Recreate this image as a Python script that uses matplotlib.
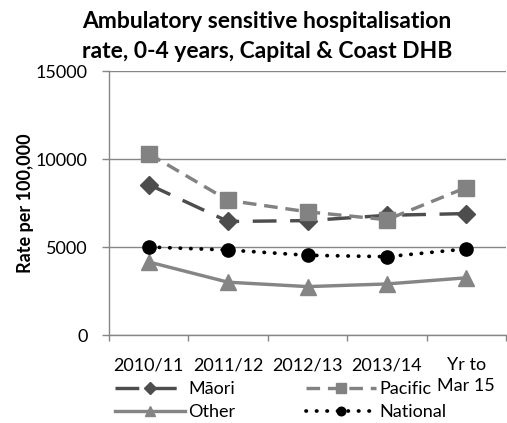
import matplotlib
matplotlib.use("Agg")
import matplotlib.pyplot as plt
import numpy as np

categories = ["2010/11", "2011/12", "2012/13", "2013/14", "Yr to\nMar 15"]
maori = [8550, 6450, 6500, 6800, 6900]
pacific = [10300, 7650, 7000, 6550, 8380]
other = [4150, 3000, 2750, 2900, 3250]
national = [5000, 4830, 4530, 4450, 4890]
yticks = [0, 5000, 10000, 15000]

FONT = ["Lato", "DejaVu Sans"]
plt.rcParams['font.family'] = FONT

fig = plt.figure(figsize=(5.07, 4.23), dpi=100)
ax = fig.add_axes([109/507, 1-335/423, 397/507, 264/423])

x = np.arange(len(categories))
lw = 3.4 * 72/100
FS = 13

ax.plot(x, maori, color="#4d4d4d", lw=lw, linestyle=(0, (7, 4)), marker="D",
        markersize=9, label="Māori", zorder=3)
ax.plot(x, pacific, color="#828282", lw=lw, linestyle=(0, (4, 2.3)), marker="s",
        markersize=11, label="Pacific", zorder=3)
ax.plot(x, other, color="#858585", lw=lw, linestyle="-", marker="^",
        markersize=11, label="Other", zorder=3)
ax.plot(x, national, color="black", lw=2.7, linestyle=(0, (0.1, 2.7)),
        dash_capstyle="round", marker="o", markersize=9.5, label="National", zorder=4)

ax.set_xlim(-0.5, len(categories) - 0.5)
ax.set_ylim(0, 15000)
ax.set_yticks(yticks)
ax.set_yticklabels([str(v) for v in yticks])
ax.set_xticks(x)
ax.set_xticklabels(categories, linespacing=1.4, va="top")
ax.set_xticks(np.arange(-0.5, len(categories)), minor=True)
ax.tick_params(axis="x", which="major", length=0, pad=16, labelsize=FS, labelcolor="black")
ax.tick_params(axis="x", which="minor", length=4, color="#868686", width=1)
ax.tick_params(axis="y", length=5, color="#868686", width=1, labelsize=FS, pad=10.5)

ax.grid(axis="y", color="#868686", lw=1)
ax.set_axisbelow(True)
for s in ["top", "right"]:
    ax.spines[s].set_visible(False)
for s in ["left", "bottom"]:
    ax.spines[s].set_color("#868686")
    ax.spines[s].set_linewidth(1)

ax.set_ylabel("Rate per 100,000", fontweight="bold", fontsize=13, labelpad=1)

fig.text(267/507, 1-22/423, "Ambulatory sensitive hospitalisation", ha="center", va="center",
         fontsize=16.5, fontweight="bold")
fig.text(267/507, 1-52/423, "rate, 0-4 years, Capital & Coast DHB", ha="center", va="center",
         fontsize=16.5, fontweight="bold")

h, l = ax.get_legend_handles_labels()
order = [0, 2, 1, 3]
fig.legend([h[i] for i in order], [l[i] for i in order], ncol=2, frameon=False,
           loc="upper left", bbox_to_anchor=(115/507, 1-381/423), fontsize=FS,
           handlelength=3.9, handletextpad=0.17, columnspacing=3.9, labelspacing=0.4,
           markerscale=0.65, borderpad=0, borderaxespad=0)

fig.savefig("out.png", dpi=100)
